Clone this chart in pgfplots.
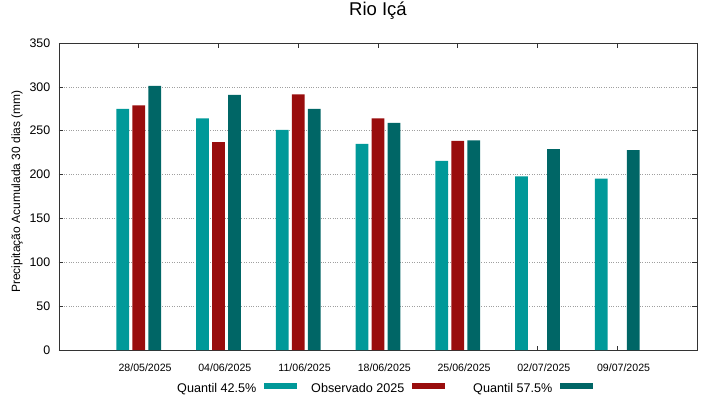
\documentclass[border=0pt]{standalone}
\usepackage{pgfplots}
\pgfplotsset{compat=1.18}
\usepackage{fontspec}
\setmainfont{Liberation Sans}
\definecolor{qlow}{RGB}{0,153,153}
\definecolor{obs}{RGB}{153,13,13}
\definecolor{qhigh}{RGB}{0,102,102}
\begin{document}
\begin{tikzpicture}
\useasboundingbox (-59pt,-49pt) rectangle (660pt,350pt);
\begin{axis}[
  scale only axis, width=638pt, height=307pt,
  xmin=-1, xmax=7, ymin=0, ymax=350,
  ytick={0,50,...,350},
  xtick={0,...,6},
  xticklabels={28/05/2025,04/06/2025,11/06/2025,18/06/2025,25/06/2025,02/07/2025,09/07/2025},
  tick align=inside, major tick length=4.5pt,
  tick style={black!80, line width=0.7pt},
  axis line style={black!80, line width=0.8pt},
  ymajorgrids, grid style={dotted, color=gray!75, line width=0.6pt},
  /pgf/number format/assume math mode=true,
  yticklabel style={font=\fontsize{12.4}{14}\selectfont, inner sep=0pt, xshift=-8.6pt},
  xticklabel style={font=\fontsize{10.6}{12}\selectfont, anchor=base, yshift=-21.7pt, xshift=6.3pt},
  ylabel={Precipitação Acumulada 30 dias (mm)},
  ylabel style={at={(axis description cs:-0.0658,0.516)}, anchor=center, font=\fontsize{12}{14}\selectfont},
  title={Rio Içá},
  title style={at={(axis description cs:0.5,1)}, anchor=base, yshift=22pt, font=\fontsize{18.5}{22}\selectfont},
  legend columns=3, legend plot pos=right,
  legend style={draw=none, fill=none, inner sep=0pt, outer sep=0pt, column sep=0pt, row sep=0pt,
    nodes={inner sep=0pt}, font=\fontsize{12.6}{15}\selectfont,
    at={(axis description cs:0.1409,-0.108)}, anchor=north west},
]
\addplot[ybar, bar width=0.16, bar shift=-0.2, fill=qlow, draw=none,
  legend image code/.code={\path (0pt,0pt); \fill[qlow] (7.5pt,-1pt) rectangle (40.5pt,5pt);}]
  coordinates {(0,275) (1,264) (2,251) (3,235) (4,215.5) (5,198) (6,195.5)};
\addlegendentry{\makebox[107.5pt][r]{Quantil 42.5\%}}
\addplot[ybar, bar width=0.16, bar shift=0, fill=obs, draw=none,
  legend image code/.code={\path (0pt,0pt); \fill[obs] (7.5pt,-1pt) rectangle (40.5pt,5pt);}]
  coordinates {(0,279) (1,237) (2,291.5) (3,264) (4,238.5)};
\addlegendentry{\makebox[107.5pt][r]{Observado 2025}}
\addplot[ybar, bar width=0.16, bar shift=0.2, fill=qhigh, draw=none,
  legend image code/.code={\path (0pt,0pt); \fill[qhigh] (7.5pt,-1pt) rectangle (40.5pt,5pt);}]
  coordinates {(0,301) (1,291) (2,275) (3,259) (4,239) (5,229) (6,228)};
\addlegendentry{\makebox[107.5pt][r]{Quantil 57.5\%}}
\end{axis}
\end{tikzpicture}
\end{document}
